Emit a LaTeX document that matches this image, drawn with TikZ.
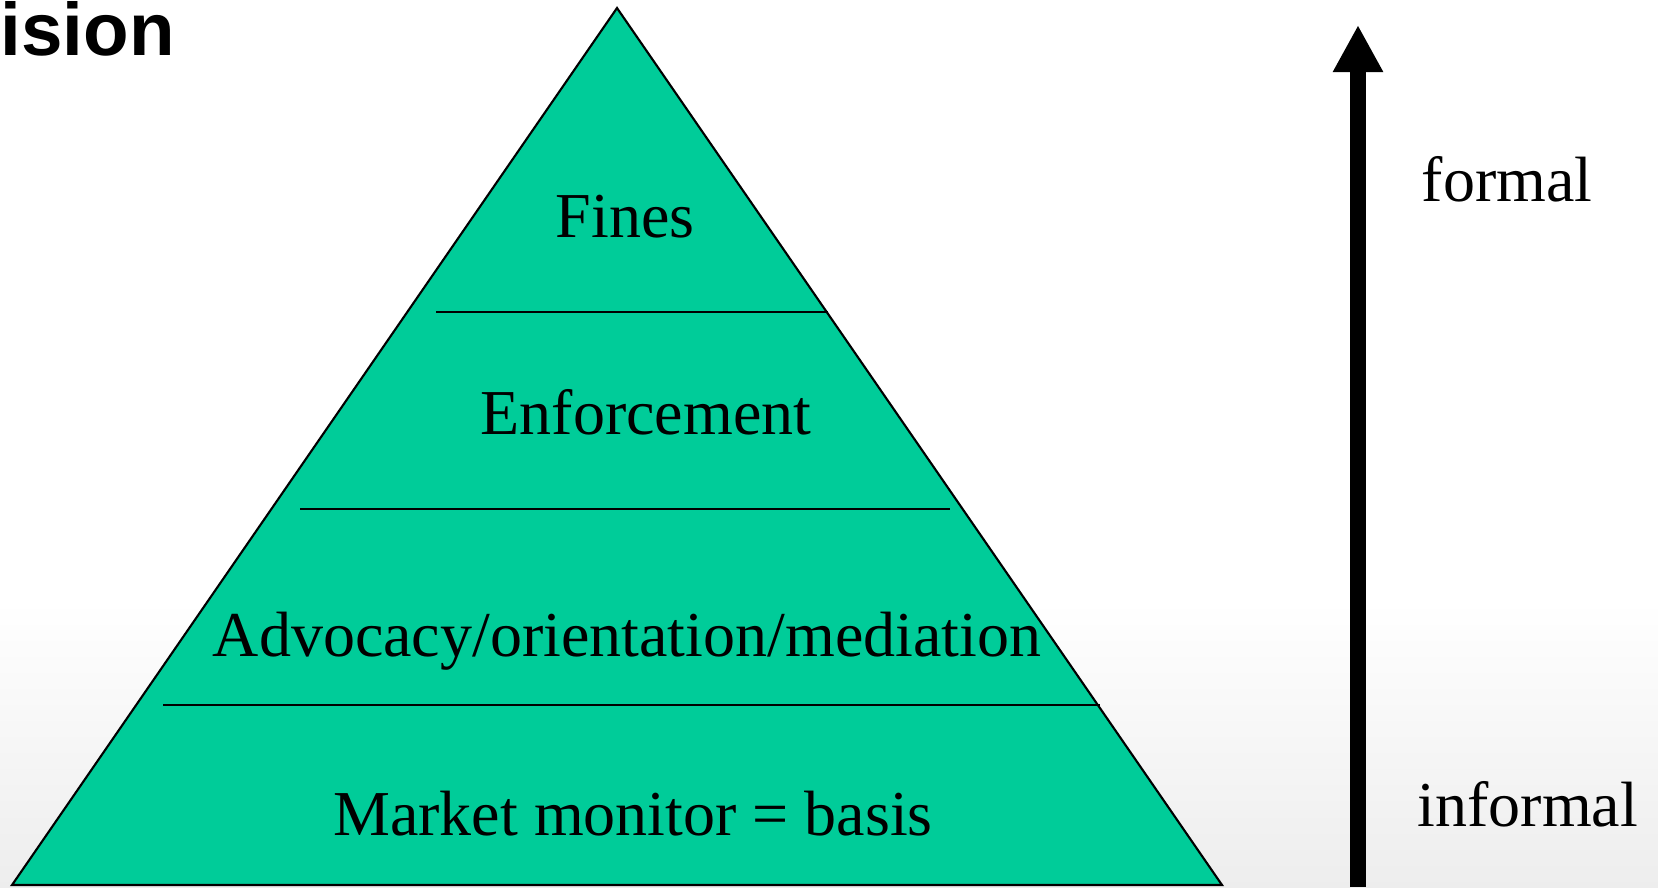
\documentclass[tikz,border=0pt]{standalone}
\usepackage{fontspec}
\setmainfont{Liberation Serif}
\setsansfont{Liberation Sans}
\usetikzlibrary{arrows.meta}

\definecolor{pyrgreen}{RGB}{0,204,153}
\tikzset{
  tier/.style={inner sep=0pt, anchor=base, font=\fontsize{18.2}{20}\selectfont},
  side/.style={inner sep=0pt, anchor=base west, font=\fontsize{18.2}{20}\selectfont},
  divider/.style={line width=0.6pt},
}

\begin{document}
\begin{tikzpicture}[x=0.01cm, y=-0.01cm]
  \useasboundingbox (0,0) rectangle (1658,887);
  % Background
  \fill[white] (0,0) rectangle (1658,600);
  \shade[top color=white, bottom color=black!7] (0,600) rectangle (1658,887);
  \node (title) [inner sep=0pt, anchor=base west, font=\sffamily\bfseries\fontsize{21.2}{23}\selectfont] at (0,55) {ision};
  % Pyramid
  \coordinate (top) at (617,8);
  \coordinate (bl) at (12,885);
  \coordinate (br) at (1222,885);
  \filldraw[fill=pyrgreen, line width=0.6pt, line join=miter] (top) -- (bl) -- (br) -- cycle;
  \coordinate (d1-l) at (436,312);
  \coordinate (d1-r) at (828,312);
  \coordinate (d2-l) at (300,509);
  \coordinate (d2-r) at (950,509);
  \coordinate (d3-l) at (163,705);
  \coordinate (d3-r) at (1100,705);
  \draw[divider] (d1-l) -- (d1-r);
  \draw[divider] (d2-l) -- (d2-r);
  \draw[divider] (d3-l) -- (d3-r);
  % Nodes
  \node (fines) [tier] at (625,237) {Fines};
  \node (enf) [tier] at (646,434) {Enforcement};
  \node (adv) [tier] at (627,656) {Advocacy/orientation/mediation};
  \node (mkt) [tier] at (633,835) {Market monitor = basis};
  \node (formal) [side] at (1421,201) {formal};
  \node (informal) [side] at (1417,826) {informal};
  % Arrow
  \coordinate (a-bot) at (1358,887);
  \coordinate (a-top) at (1358,25);
  \draw[line width=0.16cm, -{Triangle[width=0.47cm, length=0.47cm]}] (a-bot) -- (a-top);
\end{tikzpicture}
\end{document}
